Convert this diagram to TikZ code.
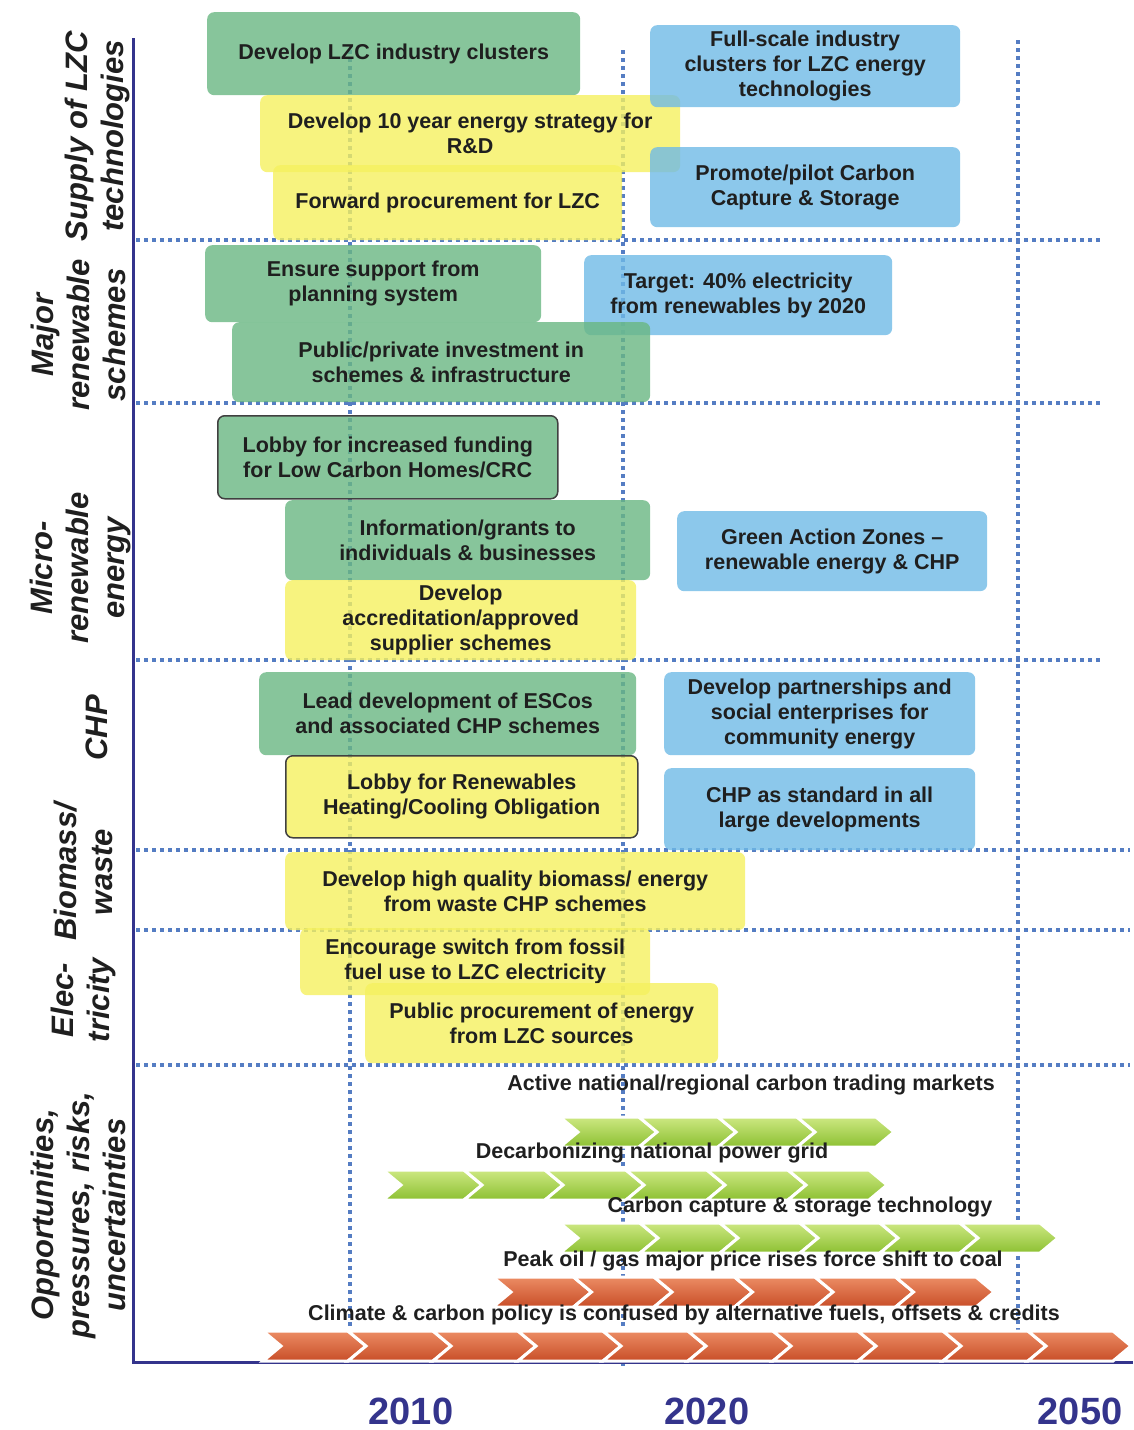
\documentclass[tikz,border=0pt]{standalone}
\usepackage{fontspec}
\setmainfont{Liberation Sans}
\usetikzlibrary{positioning}
\definecolor{boxgreen}{RGB}{105,183,130}
\definecolor{boxyellow}{RGB}{245,240,95}
\definecolor{boxblue}{RGB}{111,186,230}
\definecolor{dotblue}{RGB}{85,125,195}
\definecolor{axisnavy}{RGB}{52,52,140}
\definecolor{chevgreenA}{RGB}{205,232,130}
\definecolor{chevgreenB}{RGB}{140,192,50}
\definecolor{chevredA}{RGB}{236,140,100}
\definecolor{chevredB}{RGB}{200,78,40}
\tikzset{
  blk/.style={rounded corners=7pt, anchor=north west, align=center, inner sep=0pt,
    fill opacity=0.8, text opacity=1, text=black!88,
    font=\fontsize{21.5}{25}\selectfont\bfseries},
  gblk/.style={blk, fill=boxgreen},
  yblk/.style={blk, fill=boxyellow},
  bblk/.style={blk, fill=boxblue},
  eblk/.style={draw=black!75, draw opacity=1, line width=1.5pt},
  lbl/.style={rotate=90, align=center, text=black!88,
    font=\fontsize{31}{36}\selectfont\bfseries\itshape},
  yr/.style={text=axisnavy, inner sep=0pt, font=\fontsize{38}{42}\selectfont\bfseries},
  tline/.style={text=black!88, font=\fontsize{21.5}{24}\selectfont\bfseries},
  sepline/.style={dotblue, line width=3.5pt, dash pattern=on 3.5pt off 4.5pt},
  chev/.style={draw=white, line width=3pt, line join=miter},
  gchev/.style={chev, top color=chevgreenA, bottom color=chevgreenB},
  rchev/.style={chev, top color=chevredA, bottom color=chevredB},
}

\begin{document}
\begin{tikzpicture}[x=1pt, y=-1pt]
\useasboundingbox (0,0) rectangle (1133,1430);

% time grid
\draw[sepline] (350,50) -- (350,1345);
\draw[sepline] (623,50) -- (623,1370);
\draw[sepline] (1018,40) -- (1018,1330);
\foreach \y/\xe in {240/1100, 403/1100, 660/1100, 850/1130, 930/1130, 1065/1130}
  \draw[sepline] (136,\y) -- (\xe,\y);

% axes
\draw[axisnavy, line width=3pt] (133,38) -- (133,1362) -- (1133,1362);

% row labels
\node[lbl] (supply) at (97,136) {Supply of LZC\\technologies};
\node[lbl] (major) at (78,335) {Major\\renewable\\schemes};
\node[lbl] (micro) at (80,568) {Micro-\\renewable\\energy};
\node[lbl] (chp) at (97,728) {CHP};
\node[lbl] (biowaste) at (83,872) {Biomass/\\waste};
\node[lbl] (elec) at (83,1000) {Elec-\\tricity};
\node[lbl] (opps) at (78,1215) {Opportunities,\\pressures, risks,\\uncertainties};

% supply of LZC technologies
\node[gblk, minimum width=373pt, minimum height=83pt] (clusters) at (207,12) {Develop LZC industry clusters};
\node[yblk, minimum width=420pt, minimum height=77pt] (strategy) at (260,95) {Develop 10 year energy strategy for\\R\&D};
\node[yblk, minimum width=349pt, minimum height=75pt] (fwdproc) at (273,165) {Forward procurement for LZC};
\node[bblk, minimum width=310pt, minimum height=82pt] (fullscale) at (650,25) {Full-scale industry\\clusters for LZC energy\\technologies};
\node[bblk, minimum width=310pt, minimum height=80pt] (ccspilot) at (650,147) {Promote/pilot Carbon\\Capture \& Storage};

% major renewable schemes
\node[gblk, minimum width=336pt, minimum height=77pt] (planning) at (205,245) {Ensure support from\\planning system};
\node[bblk, minimum width=308pt, minimum height=80pt] (target) at (584,255) {Target: 40\% electricity\\from renewables by 2020};
\node[gblk, minimum width=418pt, minimum height=80pt] (invest) at (232,322) {Public/private investment in\\schemes \& infrastructure};

% micro-renewable energy
\node[gblk, eblk, minimum width=340pt, minimum height=83pt] (lobbyfund) at (217,415) {Lobby for increased funding\\for Low Carbon Homes/CRC};
\node[gblk, minimum width=365pt, minimum height=80pt] (grants) at (285,500) {Information/grants to\\individuals \& businesses};
\node[yblk, minimum width=351pt, minimum height=80pt] (accredit) at (285,580) {Develop\\accreditation/approved\\supplier schemes};
\node[bblk, minimum width=310pt, minimum height=80pt] (gaz) at (677,511) {Green Action Zones --\\renewable energy \& CHP};

% CHP
\node[gblk, minimum width=377pt, minimum height=83pt] (escos) at (259,672) {Lead development of ESCos\\and associated CHP schemes};
\node[yblk, eblk, minimum width=352pt, minimum height=82pt] (lobbyheat) at (285,755) {Lobby for Renewables\\Heating/Cooling Obligation};
\node[bblk, minimum width=311pt, minimum height=83pt] (partner) at (664,672) {Develop partnerships and\\social enterprises for\\community energy};
\node[bblk, minimum width=311pt, minimum height=82pt] (chpstd) at (664,768) {CHP as standard in all\\large developments};

% biomass / electricity
\node[yblk, minimum width=460pt, minimum height=78pt] (biomass) at (285,852) {Develop high quality biomass/ energy\\from waste CHP schemes};
\node[yblk, minimum width=350pt, minimum height=67pt] (switch) at (300,928) {Encourage switch from fossil\\fuel use to LZC electricity};
\node[yblk, minimum width=353pt, minimum height=80pt] (pubproc) at (365,983) {Public procurement of energy\\from LZC sources};

% opportunities, pressures, risks
\node[tline] (trading) at (751,1085) {Active national/regional carbon trading markets};
\foreach \i in {0,...,3}
  \shadedraw[gchev] ({560+\i*79},1117) -- ++(79,0) -- ++(18,15) -- ++(-18,15) -- ++(-79,0) -- ++(18,-15) -- cycle;
\node[tline] (decarb) at (652,1153) {Decarbonizing national power grid};
\foreach \i in {0,...,5}
  \shadedraw[gchev] ({383+\i*81},1170) -- ++(81,0) -- ++(18,15) -- ++(-18,15) -- ++(-81,0) -- ++(18,-15) -- cycle;
\node[tline] (ccstech) at (800,1207) {Carbon capture \& storage technology};
\foreach \i in {0,...,5}
  \shadedraw[gchev] ({560+\i*80},1223) -- ++(80,0) -- ++(18,15) -- ++(-18,15) -- ++(-80,0) -- ++(18,-15) -- cycle;
\node[tline] (peakoil) at (753,1261) {Peak oil / gas major price rises force shift to coal};
\foreach \i in {0,...,5}
  \shadedraw[rchev] ({493+\i*80.5},1277) -- ++(80.5,0) -- ++(18,15) -- ++(-18,15) -- ++(-80.5,0) -- ++(18,-15) -- cycle;
\node[tline] (policy) at (684,1315) {Climate \& carbon policy is confused by alternative fuels, offsets \& credits};
\foreach \i in {0,...,9}
  \shadedraw[rchev] ({263+\i*85},1331) -- ++(85,0) -- ++(18,15) -- ++(-18,15) -- ++(-85,0) -- ++(18,-15) -- cycle;

% years
\node[yr] (y2010) at (411,1411) {2010};
\node[yr] (y2020) at (707,1411) {2020};
\node[yr] (y2050) at (1080,1411) {2050};

\end{tikzpicture}
\end{document}
